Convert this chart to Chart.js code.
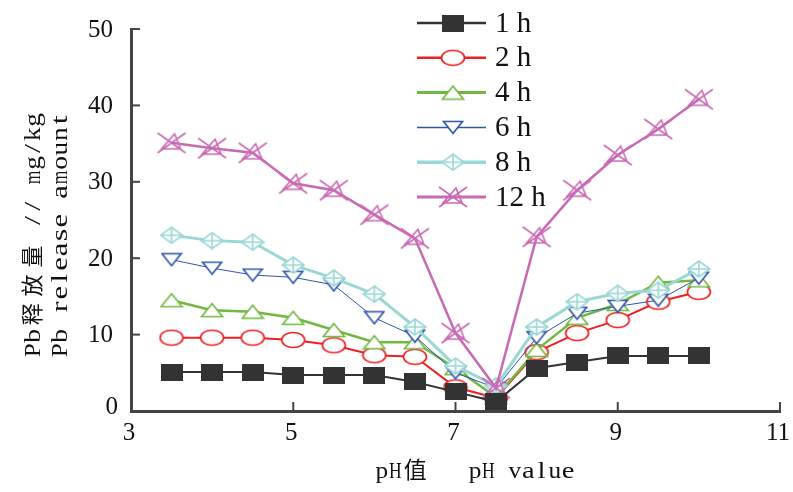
<!DOCTYPE html>
<html>
<head>
<meta charset="utf-8">
<script src="https://cdn.jsdelivr.net/npm/chart.js@4"></script>
<style>
  body { margin: 0; background: #fff; }
  #wrap { width: 793px; height: 492px; }
</style>
</head>
<body>
<div id="wrap"><canvas id="chart" width="793" height="492"></canvas></div>
<script>
// data
let phValues = [3.5, 4, 4.5, 5, 5.5, 6, 6.5, 7, 7.5, 8, 8.5, 9, 9.5, 10];
let seriesNames = ['1 h', '2 h', '4 h', '6 h', '8 h', '12 h'];
let release1h = [5.1, 5.1, 5.1, 4.7, 4.7, 4.7, 3.8, 2.5, 1.2, 5.6, 6.4, 7.2, 7.2, 7.2];
let release2h = [9.6, 9.6, 9.6, 9.3, 8.6, 7.3, 7.1, 3.1, 1.7, 7.7, 10.2, 11.9, 14.3, 15.6];
let release4h = [14.5, 13.2, 13.0, 12.2, 10.6, 9.0, 9.0, 5.6, 1.8, 8.0, 12.2, 14.0, 16.8, 17.1];
let release6h = [19.8, 18.7, 17.8, 17.5, 16.5, 12.2, 9.8, 5.0, 3.0, 9.6, 12.8, 13.7, 14.5, 17.4];
let release8h = [23.0, 22.3, 22.1, 19.1, 17.4, 15.3, 11.0, 5.9, 3.3, 11.0, 14.3, 15.4, 15.8, 18.6];
let release12h = [35.1, 34.4, 33.8, 29.8, 28.9, 25.7, 22.6, 10.2, 3.0, 22.8, 28.9, 33.5, 36.9, 40.8];
let xTicks = [3, 5, 7, 9, 11];
let yTicks = [0, 10, 20, 30, 40, 50];

const FONT = "'Liberation Serif', 'Noto Sans CJK SC', serif";

// titles use fixed-width latin glyphs; lay them out cell by cell, widening narrow ones
function monoText(ctx, text, x, y, size, cell, sx, align) {
    let chars = Array.from(text);
    let latin = c => c.charCodeAt(0) < 256;
    let cw = c => (latin(c) ? cell : cell * 2);
    let total = chars.reduce((s, c) => s + cw(c), 0);
    let pos = align === 'center' ? x - total / 2 : (align === 'right' ? x - total : x);
    ctx.textAlign = 'center';
    chars.forEach(c => {
        let w = cw(c);
        if (c !== ' ') {
            ctx.save();
            ctx.translate(pos + w / 2, y);
            if (latin(c)) {
                ctx.font = size + 'px ' + FONT;
                let gw = ctx.measureText(c).width;
                ctx.scale(Math.min(sx, (cell * 0.95) / gw), 1);
            } else {
                ctx.font = Math.round(size * 0.95) + 'px ' + FONT;
            }
            ctx.fillText(c, 0, 0);
            ctx.restore();
        }
        pos += w;
    });
}

function makeMarker(w, h, draw) {
    let c = document.createElement('canvas');
    c.width = w;
    c.height = h;
    let g = c.getContext('2d');
    draw(g, w, h);
    return c;
}

let squareMark = makeMarker(22, 17, (g, w, h) => {
    g.fillStyle = '#333333';
    g.fillRect(0, 0, w, h);
});
let circleMark = makeMarker(26, 18, (g, w, h) => {
    g.beginPath();
    g.ellipse(w / 2, h / 2, w / 2 - 1.5, h / 2 - 1.5, 0, 0, Math.PI * 2);
    g.fillStyle = '#fff';
    g.fill();
    g.strokeStyle = '#ee2020';
    g.lineWidth = 1.6;
    g.stroke();
});
let triUpMark = makeMarker(24, 16, (g, w, h) => {
    g.beginPath();
    g.moveTo(w / 2, 1.5);
    g.lineTo(w - 1.5, h - 1.5);
    g.lineTo(1.5, h - 1.5);
    g.closePath();
    g.fillStyle = '#fff';
    g.fill();
    g.strokeStyle = '#70b840';
    g.lineWidth = 1.6;
    g.stroke();
});
let triDownMark = makeMarker(22, 15, (g, w, h) => {
    g.beginPath();
    g.moveTo(1.5, 1.5);
    g.lineTo(w - 1.5, 1.5);
    g.lineTo(w / 2, h - 1.5);
    g.closePath();
    g.fillStyle = '#fff';
    g.fill();
    g.strokeStyle = '#2f55a8';
    g.lineWidth = 1.6;
    g.stroke();
});
let diamondMark = makeMarker(24, 18, (g, w, h) => {
    g.beginPath();
    g.moveTo(w / 2, 1);
    g.lineTo(w - 1, h / 2);
    g.lineTo(w / 2, h - 1);
    g.lineTo(1, h / 2);
    g.closePath();
    g.fillStyle = '#fff';
    g.fill();
    g.strokeStyle = '#9ad8d6';
    g.lineWidth = 1.6;
    g.stroke();
    g.beginPath();
    g.moveTo(w / 2, 1);
    g.lineTo(w / 2, h - 1);
    g.moveTo(1, h / 2);
    g.lineTo(w - 1, h / 2);
    g.stroke();
});
let crossMark = makeMarker(30, 24, (g, w, h) => {
    g.strokeStyle = '#c86ab4';
    g.lineWidth = 1.6;
    g.beginPath();
    g.moveTo(1, 2);
    g.lineTo(w - 1, h - 2);
    g.moveTo(w - 1, 2);
    g.lineTo(1, h - 2);
    g.moveTo(w / 2 + 3, 3);
    g.lineTo(w - 6, h - 6);
    g.lineTo(5, h - 6);
    g.closePath();
    g.stroke();
});

let colors = ['#333333', '#ee2020', '#70b840', '#2f55a8', '#9ad8d6', '#c86ab4'];
let widths = [2, 2, 2.5, 1, 3, 2.5];
let markers = [squareMark, circleMark, triUpMark, triDownMark, diamondMark, crossMark];
let seriesValues = [release1h, release2h, release4h, release6h, release8h, release12h];

let datasets = seriesNames.map((name, i) => ({
    label: name,
    data: phValues.map((x, j) => ({ x: x, y: seriesValues[i][j] })),
    borderColor: colors[i],
    backgroundColor: colors[i],
    borderWidth: widths[i],
    pointStyle: markers[i],
    pointRadius: 10,
    pointHoverRadius: 10,
    tension: 0,
    order: i === 0 ? 0 : 6 - i
}));

// tick marks, tick labels, legend and axis titles
let decorPlugin = {
    id: 'decor',
    afterDraw(chart) {
        let ctx = chart.ctx;
        let area = chart.chartArea;
        let xs = chart.scales.x;
        let ys = chart.scales.y;
        ctx.save();
        ctx.strokeStyle = '#444';
        ctx.lineWidth = 2;
        ctx.fillStyle = '#111';
        ctx.textBaseline = 'middle';
        ctx.font = '25px ' + FONT;
        xTicks.forEach(v => {
            let px = xs.getPixelForValue(v);
            ctx.beginPath();
            ctx.moveTo(px, area.bottom);
            ctx.lineTo(px, area.bottom - 9);
            ctx.stroke();
            ctx.textAlign = 'center';
            ctx.fillText(String(v), px - 2, 433);
        });
        yTicks.forEach(v => {
            let py = ys.getPixelForValue(v);
            ctx.beginPath();
            ctx.moveTo(area.left, py);
            ctx.lineTo(area.left + 9, py);
            ctx.stroke();
            ctx.textAlign = 'right';
            ctx.fillText(String(v), v === 0 ? 118 : 113, v === 0 ? py - 4 : py + 1);
        });

        // legend
        ctx.textAlign = 'left';
        ctx.font = '29px ' + FONT;
        seriesNames.forEach((name, i) => {
            let y = 23 + i * 34.8;
            ctx.strokeStyle = colors[i];
            ctx.lineWidth = widths[i] + 0.5;
            ctx.beginPath();
            ctx.moveTo(417, y);
            ctx.lineTo(486, y);
            ctx.stroke();
            let m = markers[i];
            ctx.drawImage(m, 453 - m.width / 2, y - m.height / 2);
            ctx.fillText(name, 495, y + 1);
        });

        // axis titles
        monoText(ctx, 'pH值   pH value', 475, 472, 24, 13.3, 1.2, 'center');
        ctx.translate(0, 235);
        ctx.rotate(-Math.PI / 2);
        monoText(ctx, 'Pb释放量 // mg/kg', 0, 34, 23, 14.4, 1.4, 'center');
        monoText(ctx, 'Pb release amount', 0, 61, 23, 14.4, 1.4, 'center');
        ctx.restore();
    }
};

new Chart(document.getElementById('chart').getContext('2d'), {
    type: 'line',
    data: { datasets: datasets },
    options: {
        responsive: false,
        animation: false,
        events: [],
        layout: { padding: { left: 0, right: 12, top: 29, bottom: 0 } },
        plugins: { legend: { display: false }, tooltip: { enabled: false } },
        scales: {
            x: {
                type: 'linear',
                min: 3,
                max: 11,
                afterFit: s => { s.height = 81; },
                afterBuildTicks: s => { s.ticks = xTicks.map(v => ({ value: v })); },
                grid: { display: false, drawTicks: false, tickLength: 0 },
                border: { display: true, color: '#444', width: 3 },
                ticks: { display: false }
            },
            y: {
                min: 0,
                max: 50,
                afterFit: s => { s.width = 131; },
                afterBuildTicks: s => { s.ticks = yTicks.map(v => ({ value: v })); },
                grid: { display: false, drawTicks: false, tickLength: 0 },
                border: { display: true, color: '#444', width: 3 },
                ticks: { display: false }
            }
        }
    },
    plugins: [decorPlugin]
});
</script>
</body>
</html>
